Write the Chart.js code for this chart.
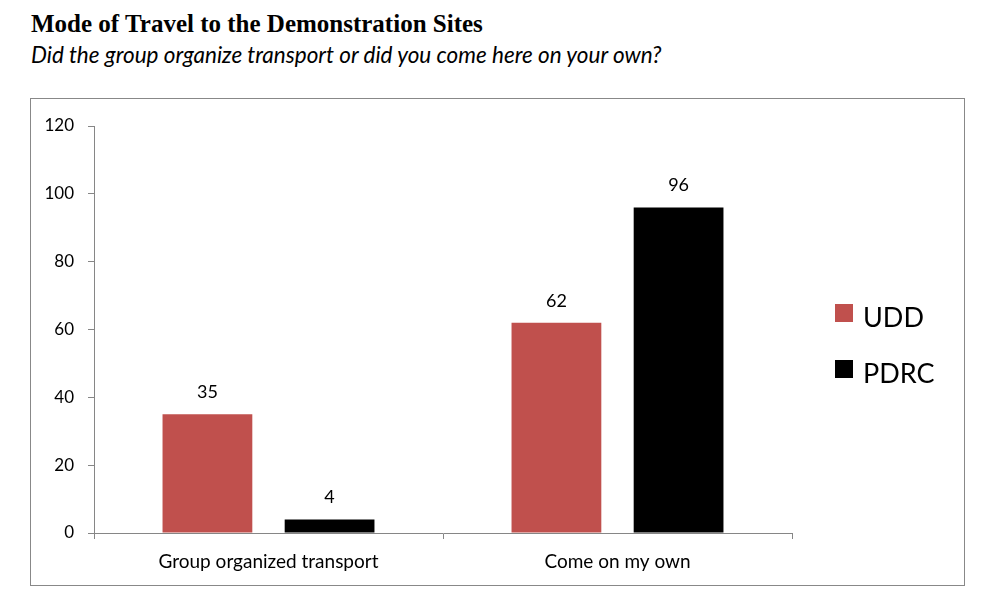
<!DOCTYPE html>
<html>
<head>
<meta charset="utf-8">
<script src="https://cdn.jsdelivr.net/npm/chart.js@4.4.1/dist/chart.umd.min.js"></script>
<style>
    body { margin: 0; background: #fff; width: 999px; height: 601px; position: relative; overflow: hidden; }
    #title { position: absolute; left: 31px; top: 10px; font-family: "Liberation Serif", serif; font-weight: bold; font-size: 25px; color: #000; white-space: nowrap; }
    #subtitle { position: absolute; left: 31px; top: 41px; font-family: Lato, sans-serif; font-style: italic; font-size: 22.5px; color: #000; white-space: nowrap; }
    #frame { position: absolute; left: 30px; top: 98px; width: 933px; height: 486px; border: 1.5px solid #888; }
    #chartBox { position: absolute; left: 0; top: 0; width: 933px; height: 486px; }
    #legend { position: absolute; left: 804px; top: 199px; font-family: Lato, sans-serif; font-size: 27px; color: #000; }
    #legend .item { position: relative; height: 56px; line-height: 30px; padding-left: 28px; }
    #legend .item span.txt { position: relative; top: 4px; }
    #legend .swatch { position: absolute; left: 0; top: 6px; width: 18px; height: 18px; }
</style>
</head>
<body>
<div id="title">Mode of Travel to the Demonstration Sites</div>
<div id="subtitle">Did the group organize transport or did you come here on your own?</div>
<div id="frame">
    <div id="chartBox"><canvas id="chart"></canvas></div>
    <div id="legend"></div>
</div>
<script>
"use strict";

// categories and series
const categories = ['Group organized transport', 'Come on my own'];
const seriesNames = ['UDD', 'PDRC'];
const uddValues = [35, 62];
const pdrcValues = [4, 96];
const seriesColors = ['#C0504D', '#000000'];
const yTicks = [0, 20, 40, 60, 80, 100, 120];

const axisColor = '#868686';

Chart.defaults.font.family = 'Lato';
Chart.defaults.color = '#000';

// draws the value above each bar
const valueLabels = {
    id: 'valueLabels',
    afterDatasetsDraw(chart) {
        const ctx = chart.ctx;
        ctx.save();
        ctx.font = '18px Lato';
        ctx.fillStyle = '#000';
        ctx.textAlign = 'center';
        ctx.textBaseline = 'middle';
        chart.data.datasets.forEach((ds, i) => {
            chart.getDatasetMeta(i).data.forEach((bar, j) => {
                ctx.fillText(ds.data[j], bar.x, bar.y - 22);
            });
        });
        ctx.restore();
    }
};

const datasets = [
    { label: seriesNames[0], data: uddValues, backgroundColor: seriesColors[0] },
    { label: seriesNames[1], data: pdrcValues, backgroundColor: seriesColors[1] }
];

new Chart(document.getElementById('chart').getContext('2d'), {
    type: 'bar',
    data: { labels: categories, datasets: datasets },
    options: {
        responsive: true,
        maintainAspectRatio: false,
        animation: false,
        layout: { padding: { top: 27, right: 172, left: 0, bottom: 0 } },
        datasets: { bar: { categoryPercentage: 0.70, barPercentage: 0.735 } },
        plugins: {
            legend: { display: false },
            tooltip: { enabled: false }
        },
        scales: {
            x: {
                grid: { display: true, drawOnChartArea: false, drawTicks: true, tickLength: 6, color: axisColor, offset: true },
                border: { color: axisColor },
                ticks: { font: { size: 19 }, padding: 11 },
                afterFit(scale) { scale.height = 52; }
            },
            y: {
                min: 0,
                max: 120,
                afterBuildTicks(scale) { scale.ticks = yTicks.map(v => ({ value: v })); },
                grid: { display: true, drawOnChartArea: false, drawTicks: true, tickLength: 6, color: axisColor },
                border: { color: axisColor },
                ticks: { font: { size: 17 }, padding: 14 },
                afterFit(scale) { scale.width = 63; }
            }
        }
    },
    plugins: [valueLabels]
});

// legend beside the plot
const legendEl = document.getElementById('legend');
datasets.forEach(ds => {
    const item = document.createElement('div');
    item.className = 'item';
    item.innerHTML = '<span class="swatch" style="background:' + ds.backgroundColor + '"></span><span class="txt">' + ds.label + '</span>';
    legendEl.appendChild(item);
});
</script>
</body>
</html>
